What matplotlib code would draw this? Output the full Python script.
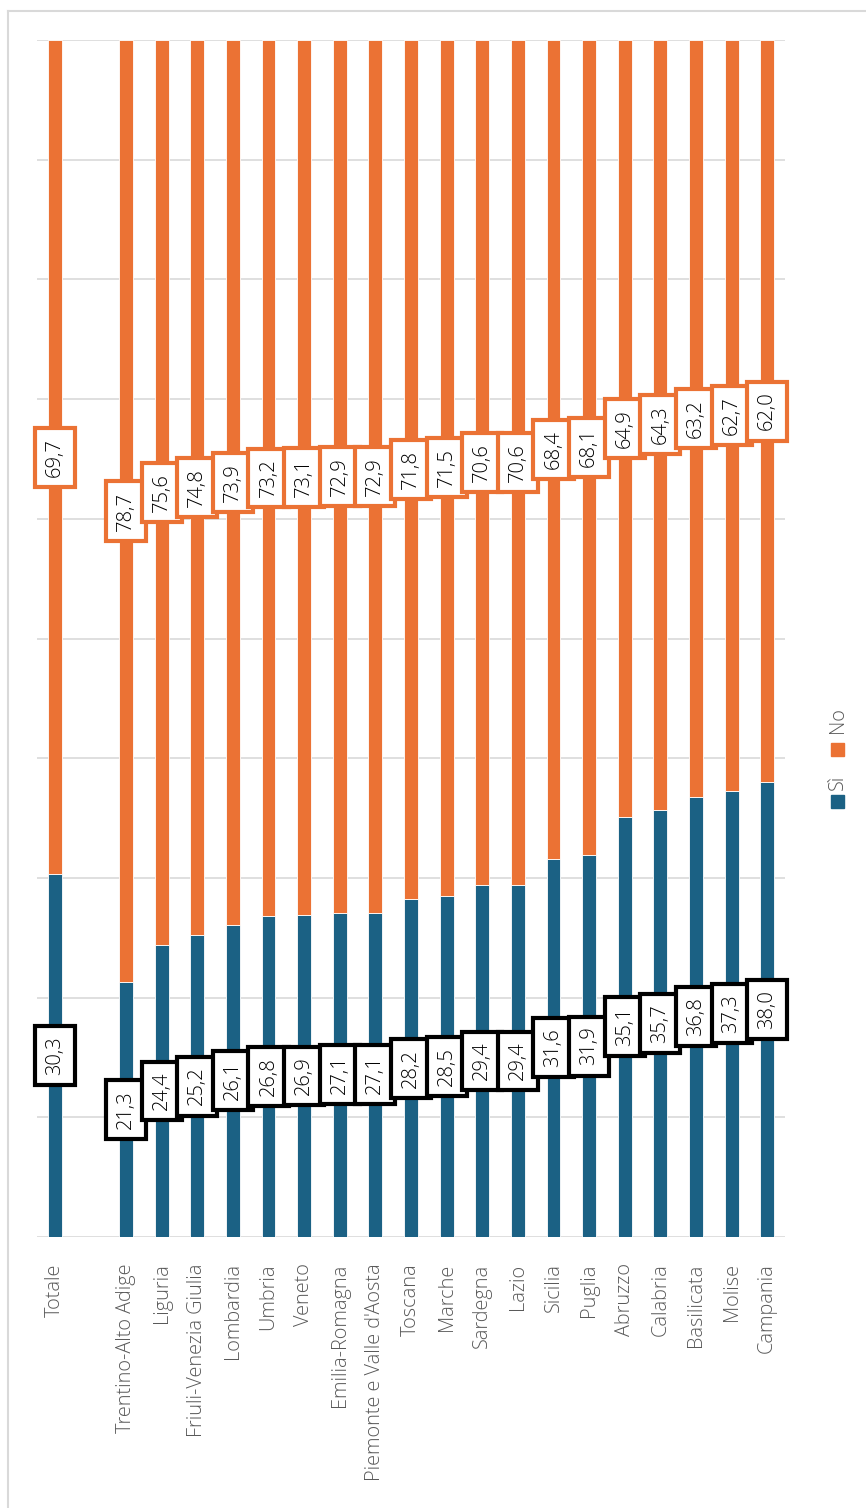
import numpy as np
import matplotlib.pyplot as plt
from matplotlib.patches import Rectangle
from matplotlib.lines import Line2D

plt.rcParams['font.family'] = ['Open Sans', 'DejaVu Sans']

# data
regioni = ['Totale', 'Trentino-Alto Adige', 'Liguria', 'Friuli-Venezia Giulia', 'Lombardia',
           'Umbria', 'Veneto', 'Emilia-Romagna', "Piemonte e Valle d'Aosta", 'Toscana',
           'Marche', 'Sardegna', 'Lazio', 'Sicilia', 'Puglia', 'Abruzzo', 'Calabria',
           'Basilicata', 'Molise', 'Campania']
si = [30.3, 21.3, 24.4, 25.2, 26.1, 26.8, 26.9, 27.1, 27.1, 28.2,
      28.5, 29.4, 29.4, 31.6, 31.9, 35.1, 35.7, 36.8, 37.3, 38.0]
no = [69.7, 78.7, 75.6, 74.8, 73.9, 73.2, 73.1, 72.9, 72.9, 71.8,
      71.5, 70.6, 70.6, 68.4, 68.1, 64.9, 64.3, 63.2, 62.7, 62.0]

blu = '#1b6184'
arancio = '#eb7234'
grigio = '#595959'

# Totale sits apart, with one empty slot after it
x = np.array([0] + list(range(2, len(regioni) + 1)))
si = np.array(si)
no = np.array(no)

fig = plt.figure(figsize=(8.66, 15.08), dpi=100)
ax = fig.add_axes([37 / 866, 1 - 1237 / 1508, (785 - 37) / 866, (1237 - 40) / 1508])

w = 0.39
ax.bar(x, si, width=w, color=blu, edgecolor='white', linewidth=0.6, zorder=2)
ax.bar(x, no, width=w, bottom=si, color=arancio, edgecolor='white', linewidth=0.6, zorder=2)

ax.set_xlim(-0.5, len(regioni) + 0.5)
ax.set_ylim(0, 100)
ax.set_yticks(np.arange(0, 101, 10))
ax.yaxis.grid(True, color='#d9d9d9', linewidth=1.2, zorder=0)
ax.set_axisbelow(True)
ax.tick_params(axis='y', left=False, labelleft=False)
ax.set_xticks(x)
ax.set_xticklabels(regioni, rotation=90, fontsize=14.3, color=grigio, fontweight='light')
ax.tick_params(axis='x', length=0, pad=19)
for s in ax.spines.values():
    s.set_visible(False)

def fmt(v):
    return f'{v:.1f}'.replace('.', ',')

for xi, a, b in zip(x, si, no):
    ax.text(xi, a / 2, fmt(a), rotation=90, ha='center', va='center', fontsize=14.5,
            color='black', fontweight='light', zorder=5,
            bbox=dict(boxstyle='square,pad=0.5', fc='white', ec='black', lw=3))
    ax.text(xi, a + b / 2, fmt(b), rotation=90, ha='center', va='center', fontsize=14.5,
            color='black', fontweight='light', zorder=5,
            bbox=dict(boxstyle='square,pad=0.5', fc='white', ec=arancio, lw=3))

# legend, drawn rotated like the rest
def fx(px):
    return px / 866

def fy(py):
    return 1 - py / 1508

fig.add_artist(Rectangle((fx(831), fy(808)), 13 / 866, 13 / 1508, color=blu, transform=fig.transFigure))
fig.text(fx(838), fy(782), 'Sì', rotation=90, ha='center', va='center', fontsize=14.3,
         color=grigio, fontweight='light')
fig.add_artist(Rectangle((fx(831), fy(756)), 13 / 866, 13 / 1508, color=arancio, transform=fig.transFigure))
fig.text(fx(838), fy(720), 'No', rotation=90, ha='center', va='center', fontsize=14.3,
         color=grigio, fontweight='light')

# chart area border (only left and top are in view)
fig.add_artist(Line2D([fx(8), fx(8)], [fy(11), 0], color='#d9d9d9', lw=1.5, transform=fig.transFigure))
fig.add_artist(Line2D([fx(8), 1], [fy(11), fy(11)], color='#d9d9d9', lw=1.5, transform=fig.transFigure))

fig.savefig('out.png', dpi=100, facecolor='white')
